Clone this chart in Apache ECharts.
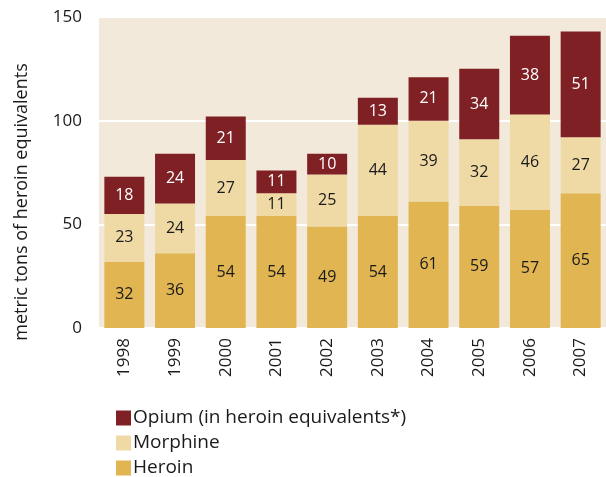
<!DOCTYPE html>
<html>
<head>
<meta charset="utf-8">
<script src="https://cdn.jsdelivr.net/npm/echarts@6/dist/echarts.min.js"></script>
<style>
html, body { margin: 0; padding: 0; background: #fff; }
#chartArea { width: 606px; height: 477px; }
</style>
</head>
<body>
<div id="chartArea"></div>
<script>
// data
var years = ['1998', '1999', '2000', '2001', '2002', '2003', '2004', '2005', '2006', '2007'];
var heroin = [32, 36, 54, 54, 49, 54, 61, 59, 57, 65];
var morphine = [23, 24, 27, 11, 25, 44, 39, 32, 46, 27];
var opium = [18, 24, 21, 11, 10, 13, 21, 34, 38, 51];
var yTicks = [0, 50, 100, 150];

var fontName = '"Open Sans", sans-serif';
var dom = document.getElementById('chartArea');
var myChart = echarts.init(dom);

function barSeries(name, data, color, labelColor) {
    return {
        name: name,
        type: 'bar',
        stack: 'total',
        data: data,
        barWidth: 40,
        itemStyle: { color: color },
        label: {
            show: true,
            position: 'inside',
            color: labelColor,
            fontFamily: fontName,
            fontSize: 16
        }
    };
}

var option = {
    animation: false,
    backgroundColor: '#ffffff',
    grid: {
        left: 99,
        top: 17,
        width: 510,
        height: 311,
        show: true,
        backgroundColor: '#f2e9db',
        borderWidth: 0
    },
    // y axis title, sits a bit lower than the plot middle
    graphic: [{
        type: 'text',
        x: 22,
        y: 202,
        rotation: Math.PI / 2,
        style: {
            text: 'metric tons of heroin equivalents',
            fontFamily: fontName,
            fontSize: 18,
            fill: '#1a1a1a',
            align: 'center',
            verticalAlign: 'middle'
        }
    }],
    legend: {
        orient: 'vertical',
        left: 111,
        top: 403,
        height: 80,
        itemWidth: 15,
        itemHeight: 15,
        itemGap: 5,
        icon: 'rect',
        textStyle: { fontFamily: fontName, fontSize: 19, lineHeight: 20, color: '#1a1a1a', padding: [0, 0, 0, -3] },
        data: ['Opium (in heroin equivalents*)', 'Morphine', 'Heroin']
    },
    xAxis: {
        type: 'category',
        data: years,
        axisLine: { show: false },
        axisTick: { show: false },
        axisLabel: {
            rotate: 90,
            margin: 10,
            fontFamily: fontName,
            fontSize: 17,
            color: '#1a1a1a'
        }
    },
    yAxis: {
        type: 'value',
        min: yTicks[0],
        max: yTicks[yTicks.length - 1],
        interval: 50,
        axisLine: { show: false },
        axisTick: { show: false },
        splitLine: { show: true, lineStyle: { color: '#ffffff', width: 2 } },
        axisLabel: {
            margin: 17,
            fontFamily: fontName,
            fontSize: 17,
            color: '#1a1a1a'
        }
    },
    series: [
        barSeries('Heroin', heroin, '#e0b552', '#1a1a1a'),
        barSeries('Morphine', morphine, '#efdaa6', '#1a1a1a'),
        barSeries('Opium (in heroin equivalents*)', opium, '#7f2024', '#ffffff')
    ]
};
myChart.setOption(option);
</script>
</body>
</html>
